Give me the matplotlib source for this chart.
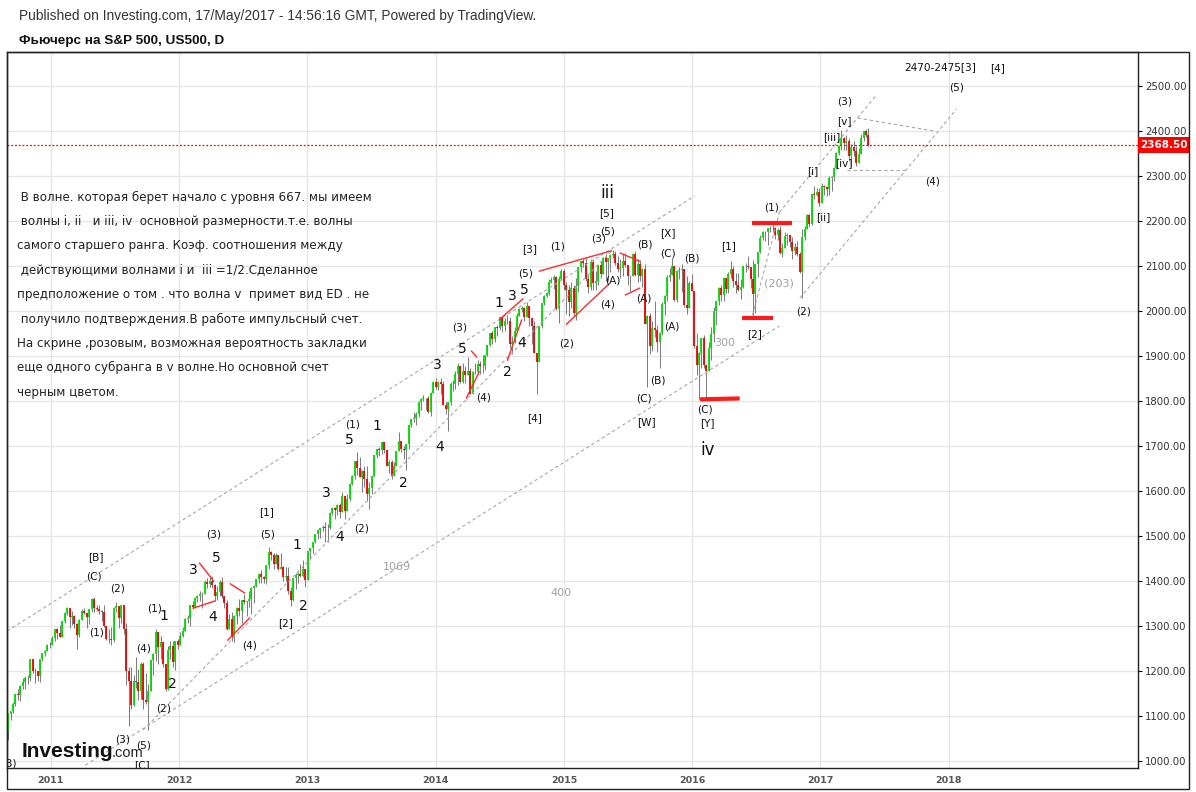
import numpy as np
import pandas as pd
import matplotlib
matplotlib.use("Agg")
import matplotlib.pyplot as plt
from matplotlib.patches import Rectangle
from matplotlib.transforms import blended_transform_factory

W, H = 1196, 792

# weekly candles: (close, high, low); open = previous close
first_open = 1065
w2010 = [(1104, 1105, 1047), (1110, 1110, 1091), (1125, 1131, 1107), (1148, 1149, 1121),
         (1146, 1160, 1135), (1166, 1168, 1132), (1176, 1184, 1160), (1183, 1189, 1159),
         (1183, 1190, 1171), (1225, 1227, 1177), (1199, 1227, 1194), (1199, 1207, 1173),
         (1189, 1199, 1177), (1225, 1225, 1174), (1240, 1240, 1222), (1244, 1246, 1233),
         (1257, 1259, 1243), (1258, 1263, 1251)]
w2011 = [(1272, 1277, 1257), (1293, 1293, 1265), (1283, 1296, 1271), (1276, 1302, 1275),
         (1310, 1311, 1276), (1329, 1330, 1306), (1340, 1341, 1323), (1320, 1340, 1294),
         (1321, 1333, 1302), (1304, 1323, 1294), (1279, 1305, 1249), (1313, 1314, 1276),
         (1332, 1337, 1313), (1328, 1339, 1325), (1319, 1329, 1295), (1337, 1338, 1303), (1360, 1361, 1331),
         (1340, 1363, 1330), (1337, 1346, 1333), (1333, 1346, 1327), (1331, 1334, 1311),
         (1300, 1345, 1297), (1271, 1298, 1268), (1271, 1292, 1262), (1268, 1298, 1258),
         (1339, 1342, 1264), (1343, 1352, 1330), (1316, 1343, 1295), (1345, 1347, 1305), (1292, 1347, 1282),
         (1199, 1307, 1168), (1178, 1208, 1077), (1123, 1208, 1115), (1177, 1190, 1122),
         (1174, 1230, 1162), (1154, 1204, 1136), (1216, 1220, 1137), (1136, 1220, 1114), (1131, 1195, 1127),
         (1155, 1171, 1068), (1224, 1224, 1155), (1238, 1239, 1190), (1285, 1292, 1221),
         (1253, 1285, 1215), (1263, 1277, 1226), (1216, 1266, 1209), (1159, 1208, 1155),
         (1245, 1255, 1158), (1255, 1267, 1226), (1220, 1266, 1209), (1266, 1266, 1202), (1258, 1270, 1248)]
w2012 = [(1278, 1285, 1258), (1289, 1297, 1274), (1315, 1316, 1289), (1316, 1323, 1306),
         (1345, 1345, 1300), (1342, 1354, 1337), (1361, 1363, 1340), (1366, 1368, 1352),
         (1370, 1378, 1354), (1371, 1374, 1340), (1398, 1401, 1370), (1392, 1405, 1384), (1400, 1410, 1386),
         (1390, 1410, 1383), (1365, 1393, 1355), (1375, 1388, 1356), (1398, 1401, 1365),
         (1365, 1408, 1362), (1350, 1366, 1340), (1293, 1356, 1290), (1315, 1325, 1292),
         (1275, 1331, 1266), (1322, 1323, 1264), (1340, 1341, 1303), (1332, 1360, 1322), (1358, 1358, 1306),
         (1352, 1371, 1349), (1354, 1355, 1322), (1359, 1377, 1342), (1383, 1387, 1326),
         (1388, 1391, 1351), (1403, 1403, 1386), (1415, 1417, 1394), (1408, 1423, 1395), (1404, 1411, 1394),
         (1435, 1435, 1393), (1463, 1475, 1426), (1457, 1465, 1446), (1438, 1462, 1427),
         (1458, 1462, 1436), (1425, 1458, 1423), (1430, 1461, 1425), (1408, 1432, 1400),
         (1411, 1431, 1400), (1377, 1430, 1370), (1357, 1386, 1343), (1406, 1407, 1355), (1413, 1417, 1382),
         (1415, 1420, 1395), (1410, 1436, 1408), (1427, 1445, 1408), (1402, 1427, 1385)]
w2013 = [(1466, 1467, 1402), (1472, 1473, 1451), (1486, 1486, 1461), (1503, 1503, 1484),
         (1513, 1514, 1492), (1517, 1518, 1494), (1520, 1524, 1510), (1516, 1530, 1485),
         (1518, 1525, 1485), (1551, 1552, 1515), (1561, 1563, 1547), (1556, 1564, 1538), (1569, 1570, 1546),
         (1553, 1573, 1539), (1588, 1597, 1552), (1555, 1588, 1536), (1582, 1592, 1555),
         (1614, 1618, 1577), (1633, 1635, 1613), (1667, 1667, 1626), (1650, 1687, 1635), (1631, 1674, 1630),
         (1643, 1646, 1598), (1626, 1654, 1608), (1593, 1654, 1577), (1606, 1620, 1560),
         (1632, 1633, 1593), (1680, 1680, 1631), (1692, 1693, 1673), (1691, 1698, 1676),
         (1709, 1709, 1681), (1691, 1709, 1683), (1655, 1692, 1654), (1664, 1669, 1639), (1633, 1669, 1627),
         (1655, 1664, 1633), (1688, 1689, 1656), (1710, 1730, 1708), (1692, 1711, 1687),
         (1691, 1700, 1670), (1703, 1704, 1646), (1745, 1745, 1692), (1760, 1760, 1741),
         (1762, 1775, 1752), (1771, 1775, 1747), (1798, 1799, 1764), (1804, 1806, 1780), (1806, 1813, 1800),
         (1805, 1806, 1779), (1775, 1811, 1773), (1818, 1819, 1767), (1841, 1844, 1816)]
w2014 = [(1831, 1850, 1827), (1842, 1844, 1823), (1838, 1850, 1815), (1790, 1844, 1790), (1782, 1798, 1771),
         (1797, 1798, 1732), (1838, 1841, 1791), (1836, 1847, 1822), (1859, 1867, 1825),
         (1878, 1883, 1834), (1841, 1878, 1840), (1866, 1883, 1839), (1857, 1876, 1840),
         (1865, 1897, 1864), (1815, 1873, 1814), (1864, 1865, 1816), (1863, 1884, 1859),
         (1881, 1891, 1859), (1878, 1889, 1859), (1878, 1902, 1862), (1901, 1901, 1868), (1924, 1924, 1900),
         (1950, 1950, 1921), (1937, 1955, 1927), (1963, 1964, 1931), (1961, 1968, 1944),
         (1985, 1985, 1958), (1967, 1985, 1952), (1978, 1983, 1955), (1978, 1991, 1970),
         (1925, 1985, 1916), (1931, 1944, 1904), (1955, 1964, 1928), (1988, 1995, 1953), (2003, 2006, 1988),
         (2007, 2011, 1998), (1985, 2008, 1978), (2011, 2019, 1985), (1983, 2009, 1965),
         (1967, 1985, 1926), (1906, 1977, 1905), (1887, 1906, 1814), (1965, 1966, 1886), (2018, 2018, 1961),
         (2032, 2034, 2012), (2039, 2041, 2031), (2064, 2071, 2034), (2068, 2075, 2062),
         (2075, 2079, 2049), (2003, 2076, 2002), (2071, 2077, 1972), (2089, 2093, 2068)]
w2015 = [(2058, 2093, 2046), (2045, 2064, 1992), (2019, 2056, 1988), (2051, 2064, 2005), (1995, 2057, 1989),
         (2055, 2072, 1980), (2097, 2097, 2041), (2110, 2110, 2085), (2105, 2115, 2098),
         (2071, 2117, 2067), (2053, 2080, 2040), (2108, 2114, 2047), (2061, 2114, 2046),
         (2067, 2089, 2046), (2102, 2102, 2057), (2081, 2111, 2073), (2117, 2120, 2085),
         (2108, 2125, 2067), (2116, 2117, 2067), (2123, 2123, 2085), (2126, 2135, 2116), (2107, 2133, 2102),
         (2092, 2121, 2085), (2094, 2115, 2072), (2110, 2127, 2077), (2101, 2129, 2097),
         (2077, 2085, 2056), (2077, 2080, 2044), (2127, 2128, 2080), (2080, 2132, 2078), (2104, 2114, 2063),
         (2078, 2113, 2067), (2092, 2094, 2052), (1971, 2103, 1971), (1989, 1990, 1831),
         (1921, 1994, 1903), (1962, 1976, 1910), (1958, 2021, 1941), (1931, 1968, 1909),
         (1951, 1952, 1872), (2015, 2020, 1945), (2033, 2034, 1990), (2075, 2080, 2022), (2079, 2094, 2066),
         (2099, 2116, 2080), (2023, 2093, 2022), (2089, 2089, 2020), (2090, 2097, 2070),
         (2092, 2104, 2042), (2012, 2080, 2008), (2006, 2076, 1993), (2061, 2067, 2005)]
w2016 = [(2044, 2082, 2043), (1922, 2038, 1918), (1880, 1950, 1857), (1907, 1908, 1804), (1940, 1940, 1872),
         (1880, 1947, 1872), (1865, 1881, 1806), (1918, 1931, 1865), (1948, 1963, 1891),
         (2000, 2009, 1931), (2022, 2022, 1969), (2050, 2052, 2012), (2035, 2056, 2022),
         (2073, 2075, 2022), (2048, 2067, 2039), (2081, 2087, 2040), (2092, 2111, 2073), (2065, 2099, 2053),
         (2057, 2084, 2040), (2047, 2084, 2044), (2053, 2070, 2025), (2099, 2100, 2051),
         (2099, 2105, 2086), (2096, 2121, 2092), (2071, 2096, 2050), (2037, 2113, 1987),
         (2103, 2103, 1995), (2130, 2131, 2074), (2162, 2169, 2128), (2175, 2178, 2158), (2174, 2178, 2155),
         (2183, 2183, 2147), (2184, 2188, 2175), (2184, 2193, 2174), (2169, 2187, 2160),
         (2180, 2184, 2157), (2128, 2188, 2127), (2139, 2150, 2119), (2165, 2175, 2139), (2168, 2172, 2145),
         (2153, 2169, 2142), (2133, 2163, 2114), (2141, 2150, 2124), (2126, 2154, 2122),
         (2085, 2131, 2083), (2164, 2182, 2028), (2182, 2189, 2156), (2213, 2214, 2183),
         (2192, 2214, 2187), (2259, 2259, 2191), (2258, 2278, 2248), (2263, 2273, 2254), (2239, 2273, 2233)]
w2017 = [(2277, 2283, 2245), (2275, 2279, 2258), (2271, 2276, 2254), (2295, 2300, 2258),
         (2297, 2300, 2267), (2316, 2319, 2289), (2351, 2352, 2314), (2367, 2368, 2345),
         (2383, 2401, 2358), (2373, 2385, 2358), (2378, 2390, 2357), (2344, 2383, 2333), (2363, 2371, 2322),
         (2355, 2378, 2344), (2329, 2366, 2322), (2349, 2362, 2328), (2384, 2392, 2350),
         (2399, 2400, 2377), (2390, 2403, 2385), (2368.5, 2405, 2367)]
last_price = 2368.50

price_ticks = list(range(1000, 2501, 100))
year_ticks = list(range(2011, 2019))

# wave labels: (text, decimal year, price)
labels_small = [
    ("(B)", 2010.67, 993), ("[B]", 2011.35, 1453), ("(C)", 2011.34, 1410), ("(2)", 2011.52, 1382),
    ("(1)", 2011.36, 1286), ("(1)", 2011.81, 1339), ("(4)", 2011.72, 1250), ("(2)", 2011.88, 1115),
    ("(3)", 2011.56, 1048), ("(5)", 2011.72, 1033), ("[C]", 2011.71, 990),
    ("(3)", 2012.27, 1502), ("(4)", 2012.55, 1255), ("(5)", 2012.69, 1502), ("[1]", 2012.68, 1553),
    ("[2]", 2012.83, 1306), ("(2)", 2013.42, 1517), ("(1)", 2013.35, 1746),
    ("(3)", 2014.19, 1962), ("(4)", 2014.37, 1806), ("[4]", 2014.77, 1762), ("(2)", 2015.02, 1928),
    ("(5)", 2014.70, 2082), ("[3]", 2014.73, 2137), ("(1)", 2014.95, 2142), ("(3)", 2015.27, 2161),
    ("(5)", 2015.34, 2175), ("[5]", 2015.33, 2217), ("(A)", 2015.38, 2068), ("(4)", 2015.34, 2013),
    ("(B)", 2015.63, 2146), ("(A)", 2015.62, 2026), ("(B)", 2015.73, 1844), ("(C)", 2015.62, 1804),
    ("[W]", 2015.64, 1753), ("[X]", 2015.81, 2173), ("(C)", 2015.81, 2128), ("(B)", 2016.00, 2115),
    ("(A)", 2015.84, 1964), ("(C)", 2016.10, 1781), ("[Y]", 2016.12, 1750), ("[1]", 2016.28, 2144),
    ("(1)", 2016.62, 2230), ("[2]", 2016.49, 1948), ("(2)", 2016.87, 1999), ("[ii]", 2017.02, 2208),
    ("[i]", 2016.94, 2310), ("[iii]", 2017.09, 2386), ("[v]", 2017.19, 2421), ("(3)", 2017.19, 2464),
    ("[iv]", 2017.18, 2328), ("(4)", 2017.87, 2286), ("(5)", 2018.06, 2497),
    ("2470-2475[3]", 2017.93, 2542), ("[4]", 2018.38, 2539),
]
labels_big = [
    ("1", 2011.88, 1322), ("2", 2011.95, 1170), ("5", 2012.29, 1450), ("3", 2012.11, 1424),
    ("4", 2012.26, 1319), ("1", 2012.92, 1479), ("2", 2012.97, 1344), ("3", 2013.15, 1595),
    ("4", 2013.25, 1497), ("5", 2013.33, 1713), ("1", 2013.54, 1744), ("2", 2013.75, 1617),
    ("3", 2014.01, 1879), ("4", 2014.03, 1697), ("5", 2014.21, 1915), ("1", 2014.49, 2017),
    ("3", 2014.60, 2033), ("5", 2014.69, 2046), ("2", 2014.56, 1864), ("4", 2014.67, 1928),
]
labels_roman = [("iii", 2015.34, 2261), ("iv", 2016.12, 1690)]
labels_gray = [("1069", 2013.70, 1430), ("400", 2014.98, 1373), ("300", 2016.25, 1928),
               ("(203)", 2016.68, 2061)]

# author's drawings
gray_dashed = [((2010.66, 1288), (2016.02, 2255)), ((2011.72, 1068), (2015.38, 2135)),
               ((2011.27, 990), (2016.68, 1966)), ((2016.47, 1990), (2016.68, 2219)),
               ((2016.68, 2219), (2017.43, 2477)), ((2016.84, 2028), (2018.06, 2448)),
               ((2017.29, 2428), (2017.89, 2399)), ((2017.21, 2313), (2017.68, 2313))]
red_thin = [((2012.16, 1439), (2012.27, 1399)), ((2012.11, 1339), (2012.28, 1355)),
            ((2012.40, 1393), (2012.51, 1373)), ((2012.38, 1268), (2012.55, 1317)),
            ((2014.28, 1910), (2014.32, 1897)), ((2014.24, 1806), (2014.34, 1864)),
            ((2014.50, 1981), (2014.68, 2026)), ((2014.56, 1890), (2014.67, 1979)),
            ((2014.81, 2088), (2015.37, 2133)), ((2015.02, 1970), (2015.35, 2059)),
            ((2015.44, 2128), (2015.59, 2110)), ((2015.48, 2035), (2015.59, 2050))]
red_thick = [((2016.47, 2195), (2016.78, 2195)), ((2016.39, 1984), (2016.63, 1984)),
             ((2016.06, 1803), (2016.37, 1805))]

note_lines = [
    " В волне. которая берет начало с уровня 667. мы имеем",
    " волны i, ii   и iii, iv  основной размерности.т.е. волны",
    "самого старшего ранга. Коэф. соотношения между",
    " действующими волнами i и  iii =1/2.Сделанное",
    "предположение о том . что волна v  примет вид ED . не",
    " получило подтверждения.В работе импульсный счет.",
    "На скрине ,розовым, возможная вероятность закладки",
    "еще одного субранга в v волне.Но основной счет",
    "черным цветом.",
]

weeks = w2010 + w2011 + w2012 + w2013 + w2014 + w2015 + w2016 + w2017
close = np.array([w[0] for w in weeks], float)
high = np.array([w[1] for w in weeks], float)
low = np.array([w[2] for w in weeks], float)
opn = np.concatenate([[first_open], close[:-1]])
high = np.maximum(high, np.maximum(opn, close))
low = np.minimum(low, np.minimum(opn, close))

dates = pd.date_range("2010-09-03", periods=len(weeks), freq="W-FRI") - pd.Timedelta(days=2)
xs = dates.year + (dates.dayofyear - 0.5) / np.where(dates.is_leap_year, 366, 365)
xs = np.asarray(xs, float)

fig = plt.figure(figsize=(W / 100, H / 100), dpi=100)
ax = fig.add_axes([7 / W, (H - 768) / H, (1138 - 7) / W, (768 - 52) / H])
ax.set_xlim(2010.659, 2019.475)
ax.set_ylim(983.8, 2574.8)

ax.grid(True, color="#e6e6e6", linewidth=1)
ax.set_axisbelow(True)

up = close >= opn
ax.vlines(xs, low, high, color="#7a7a7a", linewidth=0.7, zorder=2)
ax.vlines(xs[up], opn[up], close[up], color="#00dc00", linewidth=1.3, zorder=3)
ax.vlines(xs[~up], close[~up], opn[~up], color="#f00000", linewidth=1.3, zorder=3)

for (x0, y0), (x1, y1) in gray_dashed:
    ax.plot([x0, x1], [y0, y1], color="#a8a8a8", linewidth=0.8, linestyle=(0, (3, 2.5)), zorder=4)
for (x0, y0), (x1, y1) in red_thin:
    ax.plot([x0, x1], [y0, y1], color="#ff2a2a", linewidth=1.0, zorder=4)
for (x0, y0), (x1, y1) in red_thick:
    ax.plot([x0, x1], [y0, y1], color="#ff1a1a", linewidth=3.0, solid_capstyle="butt", zorder=4)

ax.axhline(last_price, color="#ff0000", linewidth=0.9, linestyle=(0, (1.5, 1.5)), zorder=5)

for t, x, y in labels_small:
    ax.text(x, y, t, fontsize=7.6, color="#111111", ha="center", va="center", zorder=6, clip_on=True)
for t, x, y in labels_big:
    ax.text(x, y, t, fontsize=10, color="#111111", ha="center", va="center", zorder=6, clip_on=True)
for t, x, y in labels_roman:
    ax.text(x, y, t, fontsize=12, color="#111111", ha="center", va="center", zorder=6, clip_on=True)
for t, x, y in labels_gray:
    ax.text(x, y, t, fontsize=8, color="#a0a0a0", ha="center", va="center", zorder=6, clip_on=True)

ax.yaxis.tick_right()
ax.set_yticks(price_ticks)
ax.set_yticklabels([f"{v:.2f}" for v in price_ticks])
ax.set_xticks(year_ticks)
ax.set_xticklabels([str(y) for y in year_ticks])
ax.tick_params(axis="y", which="both", length=3, width=0.8, pad=2, labelsize=7.3,
               labelcolor="#333333", left=False, right=True)
ax.tick_params(axis="x", length=0, pad=6, labelsize=6.8, labelcolor="#555555")
for lab in ax.get_xticklabels():
    lab.set_fontweight("bold")
for sp in ax.spines.values():
    sp.set_color("#222222")
    sp.set_linewidth(1)

# price label box
tr = blended_transform_factory(ax.transAxes, ax.transData)
box_w = (1189 - 1138) / (1138 - 7)
ax.add_patch(Rectangle((1.0, last_price - 17.5), box_w, 35, transform=tr, clip_on=False,
                       facecolor="#ff0000", edgecolor="none", zorder=7))
ax.text(1.0 + box_w / 2, last_price, f"{last_price:.2f}", transform=tr, ha="center", va="center",
        color="white", fontsize=7.5, fontweight="bold", clip_on=False, zorder=8)

# outer frame
fig.add_artist(Rectangle((6.5 / W, (H - 789) / H), (1189 - 6.5) / W, (789 - 52) / H,
                         transform=fig.transFigure, fill=False, edgecolor="#222222", linewidth=1))

fig.text(19 / W, 1 - 16 / H, "Published on Investing.com, 17/May/2017 - 14:56:16 GMT, Powered by TradingView.",
         fontsize=9.9, family="Liberation Sans", color="#333333", va="center")
fig.text(19 / W, 1 - 41 / H, "Фьючерс на S&P 500, US500, D",
         fontsize=9.7, family="Liberation Sans", fontweight="bold", color="#111111", va="center")

for i, line in enumerate(note_lines):
    fig.text(17 / W, 1 - (197 + 24.4 * i) / H, line, fontsize=8.55, color="#222222", va="center")

fig.text(22 / W, 1 - 757 / H, "Investing", fontsize=15, family="Liberation Sans", fontweight="bold",
         color="#111111", va="baseline")
fig.text(112 / W, 1 - 757 / H, ".com", fontsize=10.5, family="Liberation Sans",
         color="#222222", va="baseline")

fig.savefig("out.png", dpi=100)
